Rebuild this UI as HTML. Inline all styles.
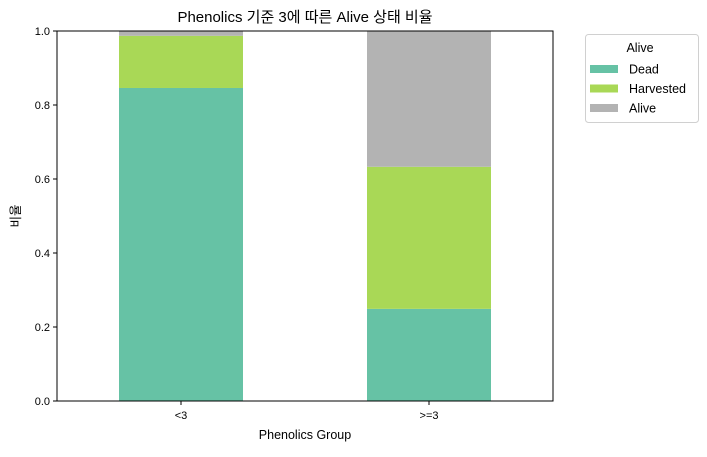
<!DOCTYPE html>
<html><head><meta charset="utf-8"><style>
body{margin:0;background:#fff;}
svg text{font-family:"Liberation Sans","Noto Sans CJK KR",sans-serif;fill:#000;}
</style></head><body>
<svg id="chart" width="707" height="452" xmlns="http://www.w3.org/2000/svg">
<text x="305" y="22" font-size="15" text-anchor="middle">Phenolics 기준 3에 따른 Alive 상태 비율</text>
<g id="bars"></g>
<g id="yticks"></g>
<g id="xticks"></g>
<rect x="57" y="31" width="496" height="370" fill="none" stroke="#000" stroke-width="1"/>
<text x="305" y="439" font-size="12.5" text-anchor="middle">Phenolics Group</text>
<text x="0" y="0" font-size="12.5" text-anchor="middle" transform="translate(20,216) rotate(-90)">비율</text>
<g>
<rect x="585.5" y="34.5" width="113" height="88" rx="3" fill="#fff" stroke="#d0d0d0"/>
<text x="640" y="52" font-size="12.5" text-anchor="middle">Alive</text>
<g id="legend-entries"></g>
</g>
</svg>
<script>
const categories = ["<3", ">=3"];
const seriesNames = ["Dead", "Harvested", "Alive"];
const deadValues = [0.846, 0.249];
const harvestedValues = [0.141, 0.384];
const aliveValues = [0.013, 0.367];
const yTickLabels = ["0.0", "0.2", "0.4", "0.6", "0.8", "1.0"];
const yTickValues = [0, 0.2, 0.4, 0.6, 0.8, 1.0];

const colors = ["#66c2a5", "#a9d856", "#b3b3b3"];
const series = [deadValues, harvestedValues, aliveValues];
const NS = "http://www.w3.org/2000/svg";
const X0 = 57, X1 = 553, Y0 = 401, Y1 = 31;
function yScale(v){ return Y0 - v * (Y0 - Y1); }
function xScale(i){ return X0 + (i + 0.5) * (X1 - X0) / categories.length; }
const bw = 0.5 * (X1 - X0) / categories.length;
function mk(tag, attrs){ const e = document.createElementNS(NS, tag); for (const k in attrs) e.setAttribute(k, attrs[k]); return e; }

const bars = document.getElementById("bars");
categories.forEach((c, i) => {
  let base = 0;
  series.forEach((s, j) => {
    const v = s[i];
    const r = mk("rect", {x: xScale(i) - bw/2, y: yScale(base + v), width: bw, height: yScale(base) - yScale(base + v), fill: colors[j]});
    
    
    bars.appendChild(r);
    base += v;
  });
});

const yt = document.getElementById("yticks");
yTickValues.forEach((v, i) => {
  const y = yScale(v);
  const l = mk("line", {x1: X0 - 4, x2: X0, y1: y, y2: y, stroke: "#000"});
  
  
  yt.appendChild(l);
  const t = mk("text", {x: X0 - 7, y: y + 4, "font-size": 11, "text-anchor": "end"});
  t.textContent = yTickLabels[i];
  
  
  yt.appendChild(t);
});

const xt = document.getElementById("xticks");
categories.forEach((c, i) => {
  const x = xScale(i);
  const l = mk("line", {x1: x, x2: x, y1: Y0, y2: Y0 + 4, stroke: "#000"});
  
  
  xt.appendChild(l);
  const t = mk("text", {x: x, y: Y0 + 18, "font-size": 11, "text-anchor": "middle"});
  t.textContent = c;
  
  
  xt.appendChild(t);
});

const le = document.getElementById("legend-entries");
seriesNames.forEach((n, j) => {
  const y = 69 + j * 19.5;
  const r = mk("rect", {x: 590, y: y - 4, width: 28, height: 8, fill: colors[j]});
  
  
  le.appendChild(r);
  const t = mk("text", {x: 629, y: y + 4.5, "font-size": 12.5});
  t.textContent = n;
  
  
  le.appendChild(t);
});
</script>
</body></html>
